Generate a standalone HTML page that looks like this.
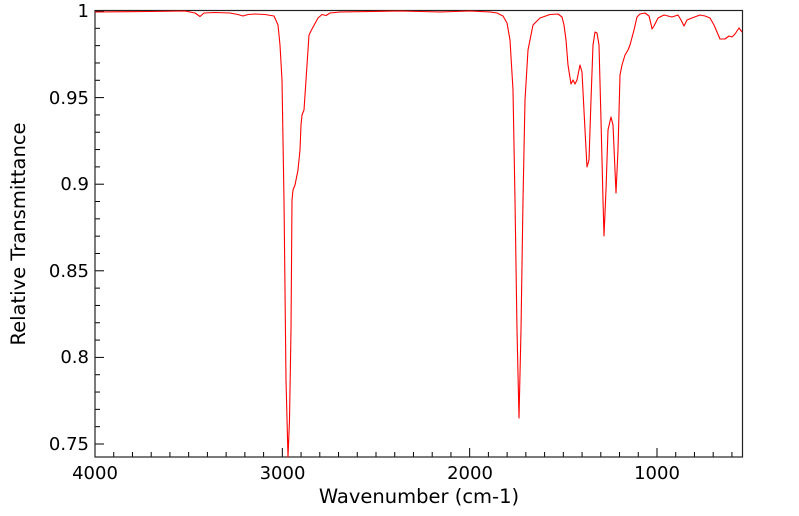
<!DOCTYPE html>
<html><head><meta charset="utf-8"><style>body{margin:0;background:#fff}svg{display:block}text{font-family:"DejaVu Sans","Liberation Sans",sans-serif;fill:#000}</style></head>
<body>
<svg width="799" height="516" viewBox="0 0 799 516" xmlns="http://www.w3.org/2000/svg">
<g id="ticks" stroke="#000" stroke-width="1"></g>
<rect x="95" y="10.5" width="647.5" height="446.5" fill="none" stroke="#222" stroke-width="1.2"/>
<path fill="none" stroke="#ff0000" stroke-width="1.1" stroke-linejoin="round" d="M95,12 L150,11.5 L185,11 L195,13 L200,16.5 L204,13 L215,12.5 L230,13 L238,14.5 L243,16 L248,14.5 L255,14 L265,14.5 L274,16 L278,25 L280,45 L282,80 L284,200 L286,380 L288,457 L289.5,420 L291,330 L292,200 L293,190 L295,185 L298,170 L300,150 L301,125 L302,115 L304,110 L305,95 L307,65 L309,35 L312,29 L318,18 L322,14.5 L326,15.5 L330,13 L340,12 L400,11 L440,12 L470,11 L490,12 L497,13 L503,16 L507,23 L510,40 L513,90 L515,200 L517,330 L519,418 L521,330 L523,200 L525,100 L528,50 L533,25 L540,18 L550,14.5 L558,14 L562,17 L564,25 L566,40 L568,65 L571,84 L573,80 L575,84 L577,80 L580,65 L582,72 L585,130 L587,167 L589,160 L591,100 L593,45 L595,32 L597,33 L599,45 L601,120 L603,200 L604,236 L606,190 L608,130 L611,117 L613,125 L615,170 L616,193 L618,150 L620,75 L622,65 L625,55 L628,50 L630,45 L634,30 L637,17 L640,14 L645,13 L649,16 L651,24 L652,29 L654,26 L658,18 L664,15 L672,17 L678,15 L681,20 L684,26 L687,20 L692,18 L700,15 L705,16 L710,18 L714,25 L720,39 L725,39 L729,36 L732,37 L735,34 L739,28 L742,32"/>
<g font-size="18" text-anchor="end">
<text x="89" y="17">1</text><text x="89" y="104">0.95</text><text x="89" y="190">0.9</text><text x="89" y="277">0.85</text><text x="89" y="363">0.8</text><text x="89" y="450">0.75</text>
</g>
<g font-size="18" text-anchor="middle">
<text x="95" y="479">4000</text><text x="282.5" y="479">3000</text><text x="470" y="479">2000</text><text x="657" y="479">1000</text>
</g>
<g font-size="19.5" text-anchor="middle">
<text x="419" y="503">Wavenumber (cm-1)</text>
<text transform="translate(25,234) rotate(-90)">Relative Transmittance</text>
</g>
</svg>
<script>
var g=document.getElementById('ticks'),s='';
for(var w=4000;w>=600;w-=100){var x=95+(4000-w)*0.18733;var L=(w%1000==0)?9:5;s+='<line x1="'+x+'" y1="457" x2="'+x+'" y2="'+(457-L)+'"/>';}
for(var i=0;i<=25;i++){var y=11+i*17.32;var L=(i%5==0)?9:5;s+='<line x1="95" y1="'+y+'" x2="'+(95+L)+'" y2="'+y+'"/>';}
g.innerHTML=s;
</script>
</body></html>
